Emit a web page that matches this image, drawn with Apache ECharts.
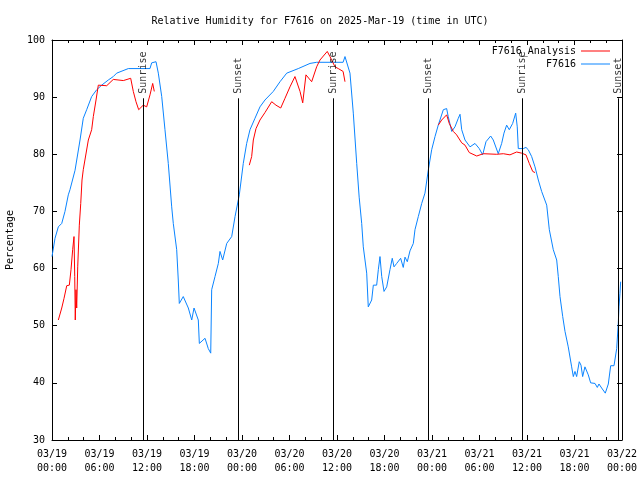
<!DOCTYPE html>
<html>
<head>
<meta charset="utf-8">
<script src="https://cdn.jsdelivr.net/npm/echarts@6/dist/echarts.min.js"></script>
<style>html,body{margin:0;padding:0;background:#fff}#c{width:640px;height:480px}</style>
</head>
<body>
<div id="c"></div>
<script>
// Hours since 2025-03-19 00:00 UTC
const blueHours = [0,0.38,0.80,1.23,1.64,2.06,2.27,2.91,3.54,3.95,4.38,5.01,5.65,6.28,7.11,7.74,8.17,9.64,12.38,12.59,13.14,13.43,13.86,14.27,14.69,15.12,15.32,15.75,15.95,16.08,16.58,17.22,17.65,17.94,18.48,18.61,19.33,19.74,20.05,20.17,20.59,21.01,21.22,21.56,22.07,22.70,23.12,23.66,24.16,24.59,25.01,25.64,26.27,26.90,27.95,28.80,29.65,31.11,32.59,33.43,35.53,36.77,37.01,37.22,37.64,38.06,38.49,38.80,39.12,39.32,39.75,39.95,40.38,40.59,41.01,41.22,41.43,41.65,41.94,42.28,42.69,42.98,43.20,43.54,44.04,44.37,44.59,44.88,45.22,45.64,45.85,46.27,46.70,47.11,47.53,47.96,48.38,48.79,49.43,49.85,50.05,50.49,50.90,51.32,51.54,51.75,52.17,52.80,53.43,53.65,53.97,54.40,54.82,55.41,55.74,56.37,56.80,57.09,57.43,57.76,58.19,58.57,58.77,58.90,59.53,59.87,60.16,60.59,61.01,61.43,61.85,62.49,62.82,63.32,63.75,63.95,64.17,64.51,64.80,65.21,65.64,65.85,66.06,66.27,66.60,66.82,67.03,67.32,67.74,68.04,68.59,68.88,69.09,69.43,69.89,70.27,70.57,70.99,71.33,71.53,71.62,71.74,71.83];
const blueValues = [62.1,65.3,67.3,67.9,70.0,72.9,73.8,77.2,82.5,86.3,87.8,90.1,91.3,92.1,93.0,93.6,94.2,95.0,95.0,96.0,96.2,94.2,90.1,84.3,78.4,70.8,67.9,63.3,58.0,53.9,55.1,53.1,51.0,53.1,51.0,46.9,47.8,46.0,45.2,56.3,58.6,60.9,63.0,61.5,64.4,65.6,69.1,72.9,78.4,81.9,84.3,86.3,88.3,89.5,91.0,92.7,94.2,95.0,95.9,96.1,96.1,96.1,97.1,96.8,94.2,87.2,78.4,72.5,67.9,63.8,59.2,53.3,54.5,57.1,57.1,59.8,62.1,58.6,56.0,56.8,59.8,61.8,60.3,60.9,61.8,60.2,62.0,61.2,63.1,64.4,66.8,69.1,71.4,73.2,77.2,80.8,83.1,85.1,87.8,88.0,86.6,84.0,84.8,86.3,87.0,84.3,82.5,81.3,81.9,82.2,81.0,79.9,82.2,83.2,82.5,80.1,81.9,83.7,85.1,84.3,85.4,87.2,84.8,81.0,81.0,81.2,80.8,79.6,77.8,75.5,73.5,71.1,66.8,63.3,61.5,58.6,55.1,51.6,49.0,46.3,42.8,41.1,42.0,41.1,43.7,43.1,41.1,42.8,41.4,40.0,39.9,39.2,39.8,39.1,38.2,39.8,43.0,43.0,46.0,50.4,53.3,55.6,57.7];

const redHours = [0.80,1.23,1.52,1.86,2.19,2.40,2.61,2.78,2.87,2.94,3.03,3.12,3.25,3.45,3.63,3.79,3.95,4.59,5.01,5.22,5.56,5.85,6.06,6.91,7.74,9.01,9.94,10.27,10.61,10.95,11.53,11.96,12.38,12.72,12.92,
  18.0,
  24.92,25.22,25.43,25.77,26.27,26.90,27.75,28.29,28.89,29.43,30.06,30.69,31.33,31.67,32.08,32.80,33.43,33.85,34.77,35.11,35.75,36.16,36.77,37.01,
  43.0,
  48.79,49.22,49.85,50.18,50.69,51.11,51.75,52.17,52.71,53.65,54.48,56.17,57.01,57.85,58.69,59.32,59.87,60.29,60.72,61.01];
const redValues = [51.0,53.1,54.8,57.0,57.1,59.8,63.3,65.6,58.6,51.0,56.3,53.1,60.3,67.6,71.4,75.5,77.3,82.5,84.3,86.6,89.5,92.1,91.8,92.0,93.1,92.9,93.3,91.0,89.2,87.8,88.6,88.3,90.4,92.4,91.0,
  null,
  78.1,79.6,82.5,84.5,86.0,87.3,89.2,88.6,88.1,89.8,91.8,93.6,91.0,89.0,93.9,92.7,95.3,96.5,98.0,97.1,95.3,95.0,94.5,92.7,
  null,
  85.1,86.0,86.9,85.4,84.0,83.4,82.0,81.6,80.3,79.7,80.1,80.0,80.1,79.9,80.4,80.2,79.9,78.4,77.0,76.8];

const eventHours = [11.53, 23.53, 35.53, 47.53, 59.41, 71.58];
const eventNames = ['Sunrise','Sunset','Sunrise','Sunset','Sunrise','Sunset'];

const yTicks = [30,40,50,60,70,80,90,100];
const titleText = 'Relative Humidity for F7616 on 2025-Mar-19 (time in UTC)';

const FONT = 'DejaVu Sans Mono';
const blueData = blueHours.map((h,i)=>[h, blueValues[i]]);
const redData = redHours.map((h,i)=> redValues[i]===null ? '-' : [h, redValues[i]]);

function fmtX(v){
  const day = 19 + Math.floor(v/24);
  const hh = Math.round(v % 24);
  return '03/' + String(day).padStart(2,'0') + '\n' + String(hh).padStart(2,'0') + ':00';
}

const axisCommon = {
  axisLine:{show:true, onZero:false, lineStyle:{color:'#000', width:1}},
  axisTick:{show:true, inside:true, length:5, lineStyle:{color:'#000'}},
  splitLine:{show:false}
};

const chart = echarts.init(document.getElementById('c'), null, {renderer:'canvas'});
chart.setOption({
  animation:false,
  backgroundColor:'#fff',
  textStyle:{fontFamily:FONT},
  title:{text:titleText, left:'center', top:11, textStyle:{fontFamily:FONT, fontSize:10, fontWeight:'normal', color:'#000'}},
  legend:[
    {data:['F7616_Analysis'], right:30, top:46, align:'right', icon:'rect', itemWidth:29, itemHeight:1, itemGap:0, padding:0,
     textStyle:{fontFamily:FONT, fontSize:10, color:'#000'}},
    {data:['F7616'], right:30, top:59, align:'right', icon:'rect', itemWidth:29, itemHeight:1, itemGap:0, padding:0,
     textStyle:{fontFamily:FONT, fontSize:10, color:'#000'}}
  ],
  grid:{left:52, right:18, top:40, bottom:40, containLabel:false, outerBoundsMode:'none'},
  xAxis:[
    Object.assign({type:'value', min:0, max:72, interval:6, position:'bottom',
      minorTick:{show:true, splitNumber:3, length:3, lineStyle:{color:'#000'}},
      axisLabel:{formatter:fmtX, color:'#000', fontFamily:FONT, fontSize:10, lineHeight:14, margin:7}}, axisCommon),
    Object.assign({type:'value', min:0, max:72, interval:6, position:'top',
      minorTick:{show:true, splitNumber:3, length:3, lineStyle:{color:'#000'}},
      axisLabel:{show:false}}, axisCommon)
  ],
  yAxis:[
    Object.assign({type:'value', min:yTicks[0], max:yTicks[yTicks.length-1], interval:10, position:'left',
      name:'Percentage', nameLocation:'middle', nameGap:37, nameRotate:90,
      nameTextStyle:{fontFamily:FONT, fontSize:10, color:'#000'},
      axisLabel:{color:'#000', fontFamily:FONT, fontSize:10, margin:7}}, axisCommon),
    Object.assign({type:'value', min:yTicks[0], max:yTicks[yTicks.length-1], interval:10, position:'right',
      axisLabel:{show:false}}, axisCommon)
  ],
  series:[
    {name:'F7616', type:'line', data:blueData, showSymbol:false, symbol:'none',
     lineStyle:{color:'#0a84ff', width:1}, itemStyle:{color:'#0a84ff'}, z:3},
    {name:'F7616_Analysis', type:'line', data:redData, showSymbol:false, symbol:'none', connectNulls:false,
     lineStyle:{color:'#ff0000', width:1}, itemStyle:{color:'#ff0000'}, z:4},
    {name:'events', type:'line', data:[], symbol:'none', silent:true,
     markLine:{silent:true, symbol:['none','none'], animation:false,
       lineStyle:{color:'#000', width:1, type:'solid'}, label:{show:false},
       data:eventHours.map(h=>[{coord:[h,30]},{coord:[h,89.8]}])}, z:5},
    {name:'eventLabels', type:'scatter', symbolSize:0, silent:true, z:6,
     data:eventHours.map((h,i)=>({value:[h,90.6], name:eventNames[i]})),
     label:{show:true, position:[0,0], rotate:90, align:'left', verticalAlign:'middle',
       formatter:p=>p.name, fontFamily:FONT, fontSize:10, color:'#000'}}
  ]
});
</script>
</body>
</html>
